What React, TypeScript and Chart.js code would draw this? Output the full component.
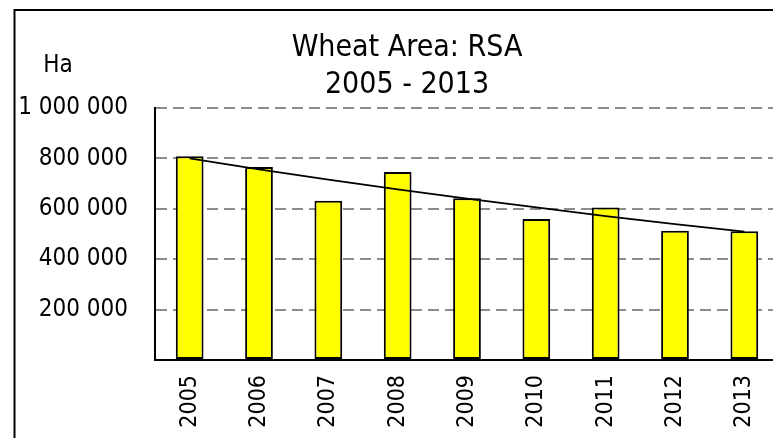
import React, { useEffect, useRef } from "react";
import { Chart, registerables } from "chart.js";

Chart.register(...registerables);

const years = ["2005", "2006", "2007", "2008", "2009", "2010", "2011", "2012", "2013"];
const areaHa = [808000, 766000, 632000, 746000, 642000, 559000, 605000, 513000, 511000];
const trendHa = [800000, 756000, 716000, 677000, 640000, 606000, 571000, 539000, 509000];
const titleLines = ["Wheat Area: RSA", "2005 - 2013"];
const unitLabel = "Ha";

const FONT = "'DejaVu Sans Condensed', 'DejaVu Sans', sans-serif";
const CW = 814;
const CH = 470;

function fmt(v: number): string {
  return String(Math.round(v)).replace(/\B(?=(\d{3})+(?!\d))/g, " ");
}

const framePlugin = {
  id: "frame",
  afterLayout(chart: any) {
    // the frame extends beyond the visible window; centre the title on the whole frame
    if (chart.titleBlock) chart.titleBlock.right = 800;
  },
  afterDraw(chart: any) {
    const ctx = chart.ctx;
    ctx.save();
    ctx.strokeStyle = "#000";
    ctx.lineWidth = 2;
    ctx.strokeRect(14.5, 10, 786, 520);
    ctx.fillStyle = "#000";
    ctx.font = "24px " + FONT;
    ctx.textAlign = "center";
    ctx.textBaseline = "middle";
    ctx.fillText(unitLabel, 58, 66);
    ctx.restore();
  },
};

export default function App() {
  const ref = useRef<HTMLCanvasElement>(null);
  useEffect(() => {
    const chart = new Chart(ref.current as HTMLCanvasElement, {
      type: "bar",
      data: {
        labels: years,
        datasets: [
          {
            type: "line",
            label: "Trend",
            data: trendHa,
            borderColor: "#000",
            borderWidth: 1.8,
            pointRadius: 0,
            fill: false,
            order: 0,
          } as any,
          {
            type: "bar",
            label: "Area",
            data: areaHa,
            backgroundColor: "#ffff00",
            borderColor: "#000",
            borderWidth: 2,
            borderSkipped: false,
            categoryPercentage: 1,
            barPercentage: 0.4,
            order: 1,
          } as any,
        ],
      },
      options: {
        responsive: false,
        animation: false,
        devicePixelRatio: 1,
        layout: { padding: { left: 14, right: 35, top: 0, bottom: 0 } },
        plugins: {
          legend: { display: false },
          tooltip: { enabled: false },
          title: {
            display: true,
            text: titleLines,
            color: "#000",
            font: { family: FONT, size: 30, weight: "normal", lineHeight: 1.233 },
            padding: { top: 30, bottom: 4 },
          },
        },
        scales: {
          x: {
            grid: { display: false, drawTicks: false },
            border: { display: true, color: "#000", width: 2 },
            ticks: {
              color: "#000",
              font: { family: FONT, size: 23 },
              minRotation: 90,
              maxRotation: 90,
              padding: 15,
            },
            afterFit(scale: any) {
              scale.height = 110;
            },
          },
          y: {
            min: 0,
            max: 1000000,
            grid: { color: "#8c8c8c", lineWidth: 2, drawTicks: false },
            border: { display: true, color: "#000", width: 2, dash: [11, 6] },
            ticks: {
              stepSize: 200000,
              color: "#000",
              font: { family: FONT, size: 24 },
              padding: 27,
              callback: (v: any) => (Number(v) === 0 ? "" : fmt(Number(v))),
            },
            afterFit(scale: any) {
              scale.width = 141;
            },
          },
        },
      },
      plugins: [framePlugin],
    } as any);
    return () => chart.destroy();
  }, []);
  return (
    <div
      style={{
        position: "fixed",
        left: 0,
        top: 0,
        width: 773,
        height: 438,
        overflow: "hidden",
        background: "#fff",
      }}
    >
      <canvas
        ref={ref}
        width={CW}
        height={CH}
        style={{ position: "absolute", left: 0, top: 0, width: CW, height: CH }}
      />
    </div>
  );
}
